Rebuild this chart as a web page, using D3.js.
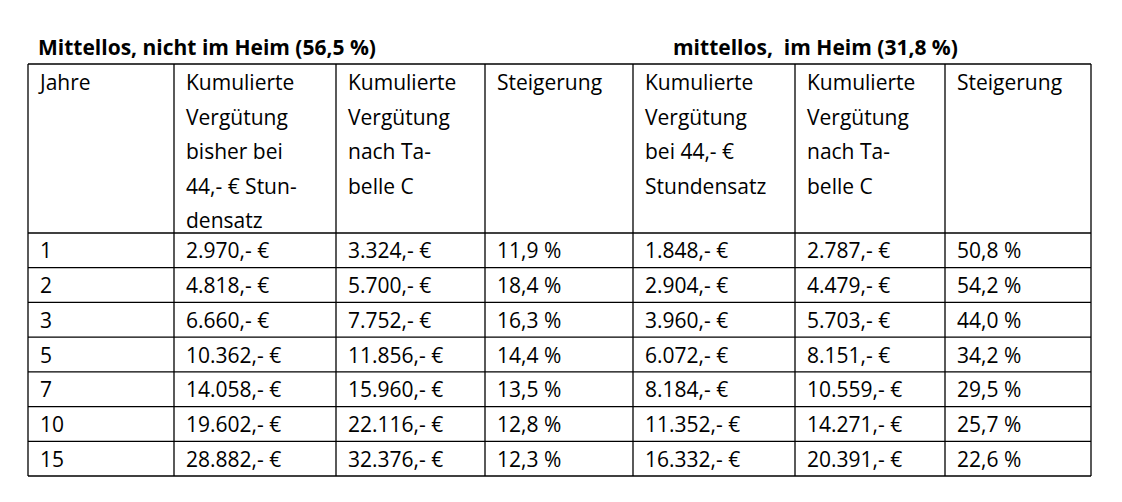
<!DOCTYPE html>
<html><head><meta charset="utf-8">
<script src="https://cdn.jsdelivr.net/npm/d3@7"></script>
<style>body{margin:0;background:#fff}text{font-family:"Open Sans","Liberation Sans",sans-serif;fill:#000;white-space:pre}</style>
</head><body><svg id="c" width="1122" height="502"></svg>
<script>
const titles = ["Mittellos, nicht im Heim (56,5 %)", "mittellos,  im Heim (31,8 %)"];
const headers = [
  ["Jahre"],
  ["Kumulierte", "Vergütung", "bisher bei", "44,- € Stun-", "densatz"],
  ["Kumulierte", "Vergütung", "nach Ta-", "belle C"],
  ["Steigerung"],
  ["Kumulierte", "Vergütung", "bei 44,- €", "Stundensatz"],
  ["Kumulierte", "Vergütung", "nach Ta-", "belle C"],
  ["Steigerung"]
];
const jahre = ["1", "2", "3", "5", "7", "10", "15"];
const bisher = ["2.970,- €", "4.818,- €", "6.660,- €", "10.362,- €", "14.058,- €", "19.602,- €", "28.882,- €"];
const tabelleA = ["3.324,- €", "5.700,- €", "7.752,- €", "11.856,- €", "15.960,- €", "22.116,- €", "32.376,- €"];
const steigA = ["11,9 %", "18,4 %", "16,3 %", "14,4 %", "13,5 %", "12,8 %", "12,3 %"];
const heimBisher = ["1.848,- €", "2.904,- €", "3.960,- €", "6.072,- €", "8.184,- €", "11.352,- €", "16.332,- €"];
const heimTabelle = ["2.787,- €", "4.479,- €", "5.703,- €", "8.151,- €", "10.559,- €", "14.271,- €", "20.391,- €"];
const steigB = ["50,8 %", "54,2 %", "44,0 %", "34,2 %", "29,5 %", "25,7 %", "22,6 %"];

const colEdges = [28, 174, 336, 485, 633, 795, 945, 1091];
const svg = d3.select("#c");
const y = d3.scaleBand().domain(jahre).range([233, 476]);
const headTop = 64;

// titles
svg.append("text").attr("x", 38).attr("y", 55).attr("font-weight", "bold").attr("font-size", 21).text(titles[0]);
svg.append("text").attr("x", 673).attr("y", 55).attr("font-weight", "bold").attr("font-size", 21).text(titles[1]);

// header text
headers.forEach((lines, i) => {
  lines.forEach((l, k) => {
    svg.append("text").attr("x", colEdges[i] + 12).attr("y", headTop + 26 + k * 34.5)
      .attr("font-size", 21).text(l);
  });
});

// body
const cols = [jahre, bisher, tabelleA, steigA, heimBisher, heimTabelle, steigB];
cols.forEach((col, i) => {
  svg.selectAll(null).data(col).join("text")
    .attr("x", colEdges[i] + 12)
    .attr("y", (d, r) => y(jahre[r]) + y.bandwidth() / 2 + 8)
    .attr("font-size", 21).text(d => d);
});

// grid lines
const g = svg.append("g").attr("stroke", "#000").attr("stroke-width", 1.3);
const hLines = [headTop, 233].concat(jahre.map(j => y(j) + y.bandwidth()));
hLines.forEach(v => g.append("line").attr("x1", colEdges[0]).attr("x2", colEdges[7]).attr("y1", v).attr("y2", v));
colEdges.forEach(v => g.append("line").attr("x1", v).attr("x2", v).attr("y1", headTop).attr("y2", 476));
</script></body></html>
